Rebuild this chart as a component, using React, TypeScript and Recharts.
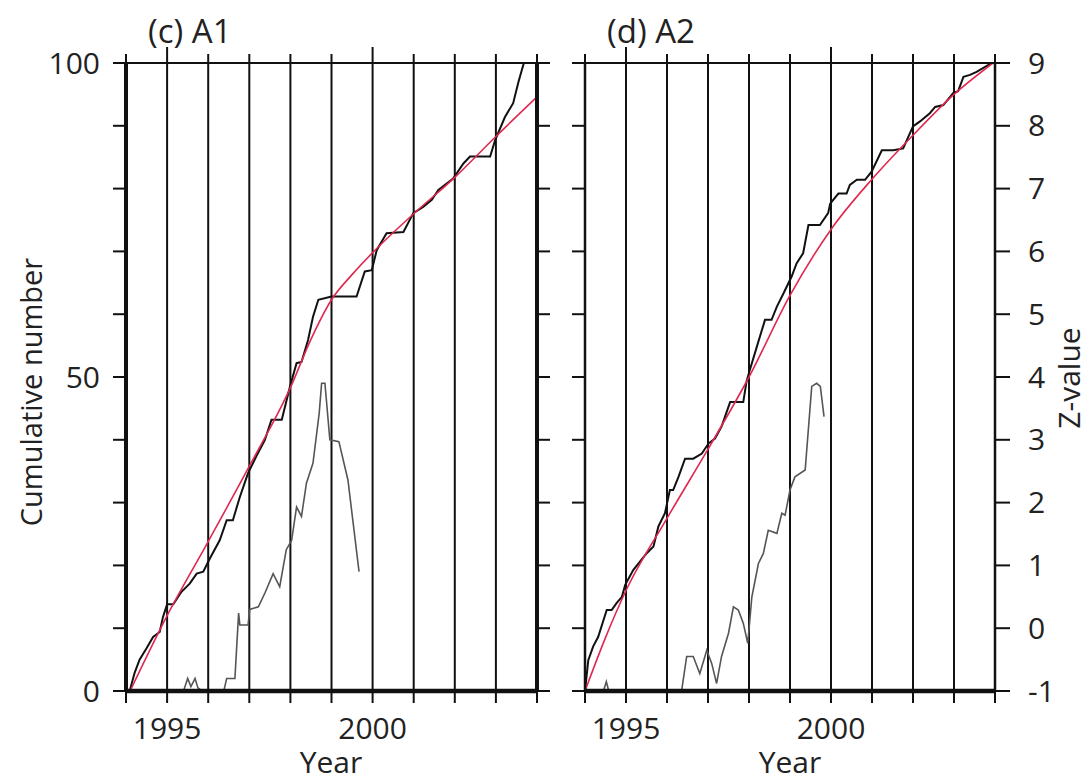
import React from "react";
import { CartesianGrid, ComposedChart, Line, XAxis, YAxis } from "recharts";

const FONT = "'Open Sans', 'Noto Sans', sans-serif";
const INK = "#111";
const TEXT = "#222";
const RED = "#e0284f";
const GREY = "#555";

const YEAR_TICKS = [1994, 1995, 1996, 1997, 1998, 1999, 2000, 2001, 2002, 2003, 2004];
const YEAR_LABELS = [1995, 2000];
const CUM_TICKS = [0, 10, 20, 30, 40, 50, 60, 70, 80, 90, 100];
const CUM_LABELS = [0, 50, 100];
const Z_TICKS = [-1, 0, 1, 2, 3, 4, 5, 6, 7, 8, 9];

// (c) A1
const A1_CUM_YEARS = [
  1994.09, 1994.21, 1994.33, 1994.5, 1994.66, 1994.82, 1994.9, 1995.0, 1995.15, 1995.35, 1995.55, 1995.72,
  1995.88, 1996.04, 1996.28, 1996.45, 1996.6, 1996.77, 1996.97, 1997.18, 1997.38, 1997.54, 1997.79, 1997.99,
  1998.15, 1998.27, 1998.43, 1998.55, 1998.68, 1999.0, 1999.61, 1999.81, 1999.98, 2000.1, 2000.34, 2000.75,
  2000.99, 2001.23, 2001.44, 2001.6, 2001.96, 2002.21, 2002.37, 2002.86, 2002.98, 2003.22, 2003.42, 2003.55,
  2003.68,
];
const A1_CUM_VALUES = [
  0, 2.9, 5, 6.8, 8.6, 9.4, 11.8, 13.8, 13.8, 15.8, 17.1, 18.7, 19, 21.1, 24, 27.2, 27.2, 30.9, 34.7, 37.5, 40,
  43.2, 43.2, 48.5, 52.2, 52.4, 55.9, 59.6, 62.3, 62.8, 62.8, 66.8, 67, 70.2, 72.9, 73.1, 76.1, 77.1, 78.2,
  79.8, 81.6, 84, 85.1, 85.1, 87.7, 91.4, 93.6, 97, 100,
];
const A1_FIT_YEARS = [1994.1, 1995, 1996, 1997, 1998, 1998.5, 1999, 1999.5, 2000, 2001, 2002, 2003, 2004];
const A1_FIT_VALUES = [0, 12, 23.8, 35.8, 48.3, 56, 62.3, 66.3, 69.8, 76, 81.8, 88.3, 94.6];
const A1_Z_YEARS = [
  1995.4, 1995.45, 1995.5, 1995.58, 1995.68, 1995.75, 1995.85, 1996.38, 1996.45, 1996.65, 1996.74, 1996.77,
  1996.97, 1997.01, 1997.22, 1997.38, 1997.58, 1997.74, 1997.9, 1998.03, 1998.15, 1998.27, 1998.39, 1998.55,
  1998.7, 1998.76, 1998.84, 1998.96, 1999.18, 1999.4, 1999.67,
];
const A1_Z_VALUES = [
  -1, -0.9, -0.8, -0.93, -0.8, -0.95, -1, -1, -0.8, -0.8, 0.24, 0.05, 0.05, 0.3, 0.34, 0.56, 0.87, 0.66, 1.25,
  1.4, 1.93, 1.78, 2.31, 2.63, 3.42, 3.9, 3.9, 3.0, 2.97, 2.36, 0.9,
];

// (d) A2
const A2_CUM_YEARS = [
  1994.0, 1994.08, 1994.2, 1994.32, 1994.53, 1994.65, 1994.77, 1994.9, 1994.98, 1995.18, 1995.34, 1995.5,
  1995.67, 1995.79, 1995.95, 1996.07, 1996.15, 1996.28, 1996.44, 1996.64, 1996.85, 1997.01, 1997.17, 1997.33,
  1997.54, 1997.86, 1997.94, 1998.02, 1998.19, 1998.39, 1998.55, 1998.68, 1998.84, 1999.04, 1999.16, 1999.32,
  1999.45, 1999.73, 1999.93, 1999.98, 2000.18, 2000.38, 2000.46, 2000.63, 2000.83, 2000.99, 2001.24, 2001.52,
  2001.76, 2002.0, 2002.17, 2002.41, 2002.54, 2002.74, 2002.98, 2003.1, 2003.23, 2003.39, 2003.55, 2003.92,
];
const A2_CUM_VALUES = [
  0, 4.9, 7.1, 8.6, 12.9, 12.9, 14, 15, 16.9, 19.3, 20.6, 21.9, 23, 26.2, 28.3, 32, 32, 34.1, 37, 37, 37.8,
  39.4, 40.2, 42.1, 46, 46, 49.3, 51.1, 54.8, 59.1, 59.1, 61.2, 63.3, 66, 68.1, 69.7, 74.2, 74.2, 76.1, 77.6,
  79.2, 79.2, 80.6, 81.4, 81.4, 82.7, 86.1, 86.1, 86.4, 89.9, 90.7, 92, 93, 93.3, 95.2, 95.5, 97.8, 98.1, 98.6,
  100,
];
const A2_FIT_YEARS = [1994.0, 1994.5, 1995, 1996, 1997, 1998, 1999, 2000, 2001, 2002, 2003, 2003.95];
const A2_FIT_VALUES = [0, 8.5, 16, 27.5, 38.5, 50, 63, 73.5, 81.5, 88.5, 95, 100];
const A2_Z_YEARS = [
  1994.45, 1994.52, 1994.58, 1996.3, 1996.36, 1996.48, 1996.64, 1996.8, 1996.97, 1997.09, 1997.21, 1997.33,
  1997.5, 1997.62, 1997.74, 1997.86, 1997.97, 1998.07, 1998.23, 1998.35, 1998.47, 1998.68, 1998.8, 1998.88,
  1999.0, 1999.12, 1999.37, 1999.53, 1999.65, 1999.74, 1999.83,
];
const A2_Z_VALUES = [
  -1, -0.85, -1, -1, -0.98, -0.45, -0.45, -0.72, -0.35, -0.56, -0.88, -0.45, -0.08, 0.34, 0.29, 0.08, -0.24,
  0.5, 1.03, 1.19, 1.56, 1.51, 1.83, 1.8, 2.2, 2.41, 2.52, 3.85, 3.9, 3.85, 3.37,
];

const CHART_H = 783;
const PLOT_TOP = 63;
const MARGIN = { top: 43, right: 0, bottom: 32, left: 0 };

const toPoints = (xs: number[], ys: number[]) => xs.map((year, i) => ({ year, value: ys[i] }));

function TopTick(props: any) {
  const { x, payload } = props;
  const len = YEAR_LABELS.includes(payload?.value) ? 16 : 9;
  return <line x1={x} x2={x} y1={PLOT_TOP} y2={PLOT_TOP - len} stroke={INK} strokeWidth={2} />;
}

interface PanelProps {
  side: "left" | "right";
  width: number;
  leftAxisWidth: number;
  rightAxisWidth: number;
  cumYears: number[];
  cumValues: number[];
  fitYears: number[];
  fitValues: number[];
  zYears: number[];
  zValues: number[];
}

function Panel(p: PanelProps) {
  const isLeft = p.side === "left";
  const edge = isLeft ? 4 : 2.5;
  const tickFont = { fontSize: 30, fill: TEXT, fontFamily: FONT };

  return (
    <ComposedChart width={p.width} height={CHART_H} margin={MARGIN}>
      <CartesianGrid xAxisId="bottom" yAxisId="cum" horizontal={false} stroke={INK} strokeWidth={2} />
      <XAxis
        xAxisId="top"
        orientation="top"
        type="number"
        dataKey="year"
        domain={[1994, 2004]}
        ticks={YEAR_TICKS}
        allowDataOverflow
        height={20}
        tickLine={false}
        tick={(t: any) => <TopTick {...t} />}
        axisLine={{ stroke: INK, strokeWidth: 2 }}
      />
      <XAxis
        xAxisId="bottom"
        type="number"
        dataKey="year"
        domain={[1994, 2004]}
        ticks={YEAR_TICKS}
        allowDataOverflow
        height={60}
        tickSize={12}
        tickMargin={15}
        tick={tickFont}
        tickFormatter={(v: number) => (YEAR_LABELS.includes(v) ? String(v) : "")}
        tickLine={{ stroke: INK, strokeWidth: 2 }}
        axisLine={{ stroke: INK, strokeWidth: 4.5 }}
      />
      <YAxis
        yAxisId="cum"
        orientation="left"
        domain={[0, 100]}
        ticks={CUM_TICKS}
        allowDataOverflow
        width={p.leftAxisWidth}
        tickSize={13}
        tickMargin={13}
        tick={tickFont}
        tickFormatter={(v: number) => (isLeft && CUM_LABELS.includes(v) ? String(v) : "")}
        tickLine={{ stroke: INK, strokeWidth: 2 }}
        axisLine={{ stroke: INK, strokeWidth: edge }}
      />
      <YAxis
        yAxisId="z"
        orientation="right"
        domain={[-1, 9]}
        ticks={Z_TICKS}
        allowDataOverflow
        width={p.rightAxisWidth}
        tickSize={isLeft ? 13 : 15}
        tickMargin={18}
        tick={tickFont}
        tickFormatter={(v: number) => (isLeft ? "" : String(v))}
        tickLine={{ stroke: INK, strokeWidth: 2 }}
        axisLine={{ stroke: INK, strokeWidth: edge }}
      />
      <Line
        xAxisId="bottom"
        yAxisId="z"
        data={toPoints(p.zYears, p.zValues)}
        dataKey="value"
        type="linear"
        stroke={GREY}
        strokeWidth={1.6}
        dot={false}
        activeDot={false}
        isAnimationActive={false}
      />
      <Line
        xAxisId="bottom"
        yAxisId="cum"
        data={toPoints(p.cumYears, p.cumValues)}
        dataKey="value"
        type="linear"
        stroke={INK}
        strokeWidth={2}
        dot={false}
        activeDot={false}
        isAnimationActive={false}
      />
      <Line
        xAxisId="bottom"
        yAxisId="cum"
        data={toPoints(p.fitYears, p.fitValues)}
        dataKey="value"
        type="monotone"
        stroke={RED}
        strokeWidth={1.6}
        dot={false}
        activeDot={false}
        isAnimationActive={false}
      />
    </ComposedChart>
  );
}

export default function App() {
  return (
    <div
      style={{
        position: "absolute",
        left: 0,
        top: 0,
        width: 1092,
        height: 783,
        background: "#fff",
        fontFamily: FONT,
        overflow: "hidden",
      }}
    >
      <div style={{ position: "absolute", left: 0, top: 0 }}>
        <Panel
          side="left"
          width={560}
          leftAxisWidth={126}
          rightAxisWidth={23}
          cumYears={A1_CUM_YEARS}
          cumValues={A1_CUM_VALUES}
          fitYears={A1_FIT_YEARS}
          fitValues={A1_FIT_VALUES}
          zYears={A1_Z_YEARS}
          zValues={A1_Z_VALUES}
        />
      </div>
      <div style={{ position: "absolute", left: 560, top: 0 }}>
        <Panel
          side="right"
          width={532}
          leftAxisWidth={25}
          rightAxisWidth={97}
          cumYears={A2_CUM_YEARS}
          cumValues={A2_CUM_VALUES}
          fitYears={A2_FIT_YEARS}
          fitValues={A2_FIT_VALUES}
          zYears={A2_Z_YEARS}
          zValues={A2_Z_VALUES}
        />
      </div>
      <svg
        width={1092}
        height={783}
        style={{ position: "absolute", left: 0, top: 0, pointerEvents: "none" }}
        fontFamily={FONT}
        fill={TEXT}
      >
        <text x={148} y={43} fontSize={33}>(c) A1</text>
        <text x={607} y={43} fontSize={33}>(d) A2</text>
        <text x={331} y={773} fontSize={30} textAnchor="middle">Year</text>
        <text x={790} y={773} fontSize={30} textAnchor="middle">Year</text>
        <text x={42} y={392} fontSize={29} textAnchor="middle" transform="rotate(-90 42 392)">
          Cumulative number
        </text>
        <text x={1080} y={378} fontSize={30} textAnchor="middle" transform="rotate(-90 1080 378)">
          Z-value
        </text>
      </svg>
    </div>
  );
}
